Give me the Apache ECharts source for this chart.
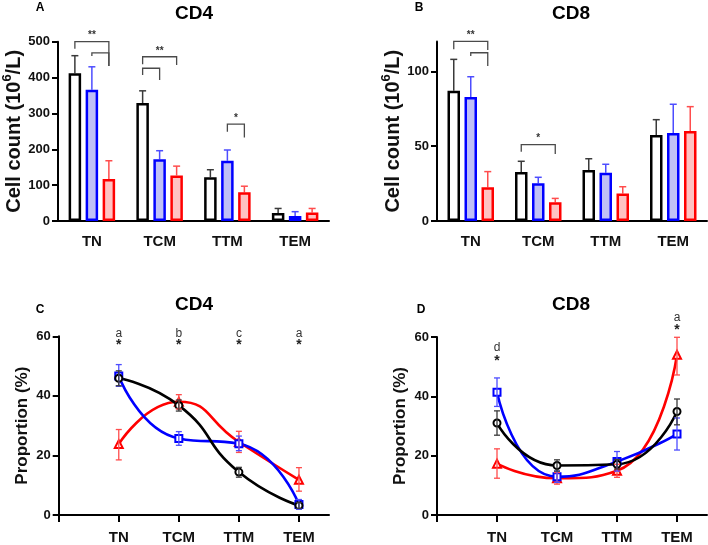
<!DOCTYPE html>
<html><head><meta charset="utf-8">
<script src="https://cdn.jsdelivr.net/npm/echarts@6/dist/echarts.min.js"></script>
<style>html,body{margin:0;padding:0;background:#fff}#c{width:708px;height:545px}</style>
</head><body><div id="c"></div>
<script>
// ---------- DATA ----------
const categories = ['TN', 'TCM', 'TTM', 'TEM'];
const catPositions = [1, 2, 3, 4];

// Panel A: CD4 cell counts (10^6/L) – mean and top of error bar
const cd4CountBlack    = [412, 329, 122, 22];
const cd4CountBlackErr = [461, 363, 143, 35];
const cd4CountBlue     = [366, 172, 168, 14];
const cd4CountBlueErr  = [430, 196, 198, 26];
const cd4CountRed      = [117, 127, 80, 24];
const cd4CountRedErr   = [168, 153, 97, 35];

// Panel B: CD8 cell counts
const cd8CountBlack    = [87, 32.7, 34.1, 57.5];
const cd8CountBlackErr = [108, 39.9, 41.6, 67.7];
const cd8CountBlue     = [82.9, 25.2, 32.3, 58.8];
const cd8CountBlueErr  = [96.4, 29.2, 37.9, 78];
const cd8CountRed      = [22.5, 12.5, 18.3, 60.1];
const cd8CountRedErr   = [33, 15.1, 22.9, 76.4];

// Significance brackets: [category, fromBar, toBar, top, leftEnd, rightEnd, label]
const cd4Brackets = [
  [0, 0, 2, 500, 480, 432, '**'],
  [0, 1, 2, 469, 460, 432, ''],
  [1, 0, 2, 458, 437, 435, '**'],
  [1, 0, 1, 426, 407, 393, ''],
  [2, 1, 2, 270, 249, 233, '*']
];
const cd8Brackets = [
  [0, 0, 2, 120, 114.7, 114.2, '**'],
  [0, 1, 2, 112.4, 110.2, 103.5, ''],
  [1, 0, 2, 51, 46.3, 44.8, '*']
];

// Panel C: CD4 proportions (%)
const cd4PropBlack     = [45.9, 36.8, 14.4, 3.2];
const cd4PropBlackLow  = [43.4, 34.9, 12.7, 2.2];
const cd4PropBlackHigh = [48.4, 38.6, 16.0, 4.2];
const cd4PropBlue      = [46.7, 25.7, 23.9, 3.5];
const cd4PropBlueLow   = [43.2, 23.4, 21.6, 1.9];
const cd4PropBlueHigh  = [50.5, 28.0, 26.5, 5.2];
const cd4PropRed       = [23.8, 38.0, 24.5, 11.8];
const cd4PropRedLow    = [18.5, 35.6, 21.0, 8.0];
const cd4PropRedHigh   = [28.7, 40.4, 28.1, 15.9];
const cd4Letters = [[1, 'a'], [2, 'b'], [3, 'c'], [4, 'a']];
const cd4LetterY = 60.9, cd4StarY = 57.6;

// Panel D: CD8 proportions (%)
const cd8PropBlack     = [31.0, 16.7, 17.1, 34.9];
const cd8PropBlackLow  = [26.9, 14.8, 15.5, 30.4];
const cd8PropBlackHigh = [35.1, 18.6, 18.7, 39.1];
const cd8PropBlue      = [41.4, 12.9, 18.0, 27.3];
const cd8PropBlueLow   = [36.6, 11.0, 14.8, 21.9];
const cd8PropBlueHigh  = [46.2, 14.8, 21.4, 32.7];
const cd8PropRed       = [17.3, 12.4, 14.9, 54.0];
const cd8PropRedLow    = [12.4, 10.4, 12.7, 47.2];
const cd8PropRedHigh   = [22.3, 14.3, 17.1, 59.9];
const cd8Annot = [[1, 'd', 56.3, 52.7], [4, 'a', 66.6, 62.9]];

// ---------- STYLE ----------
const FONT = 'Liberation Sans, Arial, Helvetica, sans-serif';
const BAR_W = 12.5, BAR_GAP = 0.36;
const BAR_STEP = BAR_W * (1 + BAR_GAP);
const COL = {
  black: {line: '#000000', fill: '#ffffff', err: '#3a3a3a'},
  blue:  {line: '#0000ff', fill: '#c0c0f6', err: '#4d4dff'},
  red:   {line: '#ff0000', fill: '#ffc2c2', err: '#ff4d4d'}
};

const chart = echarts.init(document.getElementById('c'), null, {renderer: 'canvas'});

function tickLabelStyle() {
  return {fontFamily: FONT, fontWeight: 'bold', fontSize: 13, color: '#111'};
}

function makeYAxis(grid, max, interval, name, nameGap, nameSize, ticks) {
  return {
    type: 'value', gridIndex: grid, min: 0, max: max, interval: interval,
    name: name, nameLocation: 'middle', nameGap: nameGap,
    nameTextStyle: {
      rich: {
        n: {fontFamily: FONT, fontWeight: 'bold', fontSize: nameSize, color: '#111', lineHeight: nameSize + 6},
        s: {fontFamily: FONT, fontWeight: 'bold', fontSize: Math.round(nameSize * 0.65), color: '#111', verticalAlign: 'top'}
      }
    },
    axisLine: {show: true, lineStyle: {color: '#000', width: 2}},
    axisTick: {show: true, length: 6, lineStyle: {color: '#000', width: 2}, customValues: ticks},
    axisLabel: Object.assign({margin: 8, customValues: ticks}, tickLabelStyle()),
    splitLine: {show: false}
  };
}

function catXAxis(grid) {
  return {
    type: 'category', gridIndex: grid, data: categories,
    axisLine: {lineStyle: {color: '#000', width: 2}},
    axisTick: {alignWithLabel: true, length: 7, lineStyle: {color: '#000', width: 2}},
    axisLabel: {margin: 13, fontFamily: FONT, fontWeight: 'bold', fontSize: 15, color: '#111'}
  };
}

function valXAxis(grid) {
  return {
    type: 'value', gridIndex: grid, min: 0, max: 4.5, interval: 1,
    axisLine: {lineStyle: {color: '#000', width: 2}},
    axisTick: {length: 7, lineStyle: {color: '#000', width: 2}, customValues: [0, 1, 2, 3, 4]},
    axisLabel: {margin: 15, fontFamily: FONT, fontWeight: 'bold', fontSize: 15, color: '#111',
      customValues: catPositions,
      formatter: v => categories[Math.round(v) - 1] || ''},
    splitLine: {show: false}
  };
}

function barSeries(grid, values, c) {
  return {
    type: 'bar', xAxisIndex: grid, yAxisIndex: grid, data: values,
    barWidth: BAR_W, barGap: (BAR_GAP * 100) + '%',
    itemStyle: {color: c.fill, borderColor: c.line, borderWidth: 2.5},
    z: 3, silent: true
  };
}

function barErrSeries(grid, values, errs, barIdx, c) {
  return {
    type: 'custom', xAxisIndex: grid, yAxisIndex: grid, z: 2, silent: true,
    data: values.map((v, i) => [i, v, errs[i]]),
    renderItem: function (params, api) {
      const p0 = api.coord([api.value(0), api.value(1)]);
      const p1 = api.coord([api.value(0), api.value(2)]);
      const x = p0[0] + (barIdx - 1) * BAR_STEP;
      const st = {stroke: c.err, lineWidth: 1.5};
      return {type: 'group', children: [
        {type: 'line', shape: {x1: x, y1: p0[1], x2: x, y2: p1[1]}, style: st},
        {type: 'line', shape: {x1: x - 3.5, y1: p1[1], x2: x + 3.5, y2: p1[1]}, style: st}
      ]};
    }
  };
}

function bracketSeries(grid, brackets) {
  return {
    type: 'custom', xAxisIndex: grid, yAxisIndex: grid, z: 5, silent: true,
    clip: false,
    data: brackets.map(b => [b[0], b[3], b[4], b[5]]),
    renderItem: function (params, api) {
      const b = brackets[params.dataIndex];
      const c = api.coord([b[0], b[3]]);
      const xl = c[0] + (b[1] - 1) * BAR_STEP;
      const xr = c[0] + (b[2] - 1) * BAR_STEP;
      const yt = c[1];
      const yl = api.coord([b[0], b[4]])[1];
      const yr = api.coord([b[0], b[5]])[1];
      const st = {stroke: '#4a4a4a', lineWidth: 1.3, fill: null};
      const children = [
        {type: 'polyline', shape: {points: [[xl, yl], [xl, yt], [xr, yt], [xr, yr]]}, style: st}
      ];
      if (b[6]) {
        children.push({type: 'text', x: (xl + xr) / 2, y: yt - 1,
          style: {text: b[6], fill: '#333', font: 'bold 10px ' + FONT, textAlign: 'center', textVerticalAlign: 'bottom'}});
      }
      return {type: 'group', children: children};
    }
  };
}

function lineSeries(grid, values, symbol, c, smooth) {
  return {
    type: 'line', xAxisIndex: grid, yAxisIndex: grid, smooth: smooth,
    data: values.map((v, i) => [catPositions[i], v]),
    symbol: symbol, symbolSize: symbol === 'emptyTriangle' ? 8 : 7,
    lineStyle: {color: c.line, width: 2.6},
    itemStyle: {color: c.line, borderColor: c.line, borderWidth: 1.2},
    z: 3, silent: true
  };
}

function lineErrSeries(grid, lows, highs, c) {
  return {
    type: 'custom', xAxisIndex: grid, yAxisIndex: grid, z: 4, silent: true,
    data: lows.map((v, i) => [catPositions[i], v, highs[i]]),
    renderItem: function (params, api) {
      const p0 = api.coord([api.value(0), api.value(1)]);
      const p1 = api.coord([api.value(0), api.value(2)]);
      const st = {stroke: c.err, lineWidth: 1.3};
      const x = p0[0];
      return {type: 'group', children: [
        {type: 'line', shape: {x1: x, y1: p0[1], x2: x, y2: p1[1]}, style: st},
        {type: 'line', shape: {x1: x - 3, y1: p1[1], x2: x + 3, y2: p1[1]}, style: st},
        {type: 'line', shape: {x1: x - 3, y1: p0[1], x2: x + 3, y2: p0[1]}, style: st}
      ]};
    }
  };
}

function annotSeries(grid, items) {
  // items: [x, letter, letterY, starY]
  return {
    type: 'custom', xAxisIndex: grid, yAxisIndex: grid, z: 6, silent: true, clip: false,
    data: items.map(a => [a[0], a[2], a[3]]),
    renderItem: function (params, api) {
      const a = items[params.dataIndex];
      const pl = api.coord([a[0], a[2]]);
      const ps = api.coord([a[0], a[3]]);
      return {type: 'group', children: [
        {type: 'text', x: pl[0], y: pl[1], style: {text: a[1], fill: '#333', font: '12px ' + FONT, textAlign: 'center', textVerticalAlign: 'middle'}},
        {type: 'text', x: ps[0], y: ps[1] + 2, style: {text: '*', fill: '#222', font: 'bold 14px ' + FONT, textAlign: 'center', textVerticalAlign: 'middle'}}
      ]};
    }
  };
}

const countName = '{n|Cell count (10}{s|6}{n|/L)}';
const propName = '{n|Proportion (%)}';

function headText(x, y, text, size) {
  return {type: 'text', x: x, y: y, silent: true,
    style: {text: text, font: 'bold ' + size + 'px ' + FONT, fill: '#000', textAlign: 'center', textVerticalAlign: 'middle'}};
}

const option = {
  animation: false,
  backgroundColor: '#fff',
  graphic: [
    headText(40, 8, 'A', 12), headText(194, 14, 'CD4', 19),
    headText(419, 8, 'B', 12), headText(571, 14, 'CD8', 19),
    headText(40, 310, 'C', 12), headText(194, 305, 'CD4', 19),
    headText(421, 310, 'D', 12), headText(571, 305, 'CD8', 19)
  ],
  grid: [
    {left: 58, top: 41.7, width: 271, height: 179.3},
    {left: 437, top: 41.4, width: 270, height: 179.6},
    {left: 58.7, top: 336.3, width: 270.3, height: 180.7},
    {left: 437, top: 337, width: 270, height: 179.3}
  ],
  xAxis: [catXAxis(0), catXAxis(1), valXAxis(2), valXAxis(3)],
  yAxis: [
    makeYAxis(0, 500, 100, countName, 29, 20, [0, 100, 200, 300, 400, 500]),
    makeYAxis(1, 120, 50, countName, 29, 20, [0, 50, 100]),
    makeYAxis(2, 60, 20, propName, 25, 17, [0, 20, 40, 60]),
    makeYAxis(3, 60, 20, propName, 25, 17, [0, 20, 40, 60])
  ],
  series: [
    barErrSeries(0, cd4CountBlack, cd4CountBlackErr, 0, COL.black),
    barErrSeries(0, cd4CountBlue, cd4CountBlueErr, 1, COL.blue),
    barErrSeries(0, cd4CountRed, cd4CountRedErr, 2, COL.red),
    barSeries(0, cd4CountBlack, COL.black),
    barSeries(0, cd4CountBlue, COL.blue),
    barSeries(0, cd4CountRed, COL.red),
    bracketSeries(0, cd4Brackets),

    barErrSeries(1, cd8CountBlack, cd8CountBlackErr, 0, COL.black),
    barErrSeries(1, cd8CountBlue, cd8CountBlueErr, 1, COL.blue),
    barErrSeries(1, cd8CountRed, cd8CountRedErr, 2, COL.red),
    barSeries(1, cd8CountBlack, COL.black),
    barSeries(1, cd8CountBlue, COL.blue),
    barSeries(1, cd8CountRed, COL.red),
    bracketSeries(1, cd8Brackets),

    lineSeries(2, cd4PropRed, 'emptyTriangle', COL.red, 0.55),
    lineSeries(2, cd4PropBlue, 'emptyRect', COL.blue, 0.55),
    lineSeries(2, cd4PropBlack, 'emptyCircle', COL.black, 0.55),
    lineErrSeries(2, cd4PropRedLow, cd4PropRedHigh, COL.red),
    lineErrSeries(2, cd4PropBlueLow, cd4PropBlueHigh, COL.blue),
    lineErrSeries(2, cd4PropBlackLow, cd4PropBlackHigh, COL.black),
    annotSeries(2, cd4Letters.map(l => [l[0], l[1], cd4LetterY, cd4StarY])),

    lineSeries(3, cd8PropRed, 'emptyTriangle', COL.red, 0.55),
    lineSeries(3, cd8PropBlue, 'emptyRect', COL.blue, 0.55),
    lineSeries(3, cd8PropBlack, 'emptyCircle', COL.black, 0.55),
    lineErrSeries(3, cd8PropRedLow, cd8PropRedHigh, COL.red),
    lineErrSeries(3, cd8PropBlueLow, cd8PropBlueHigh, COL.blue),
    lineErrSeries(3, cd8PropBlackLow, cd8PropBlackHigh, COL.black),
    annotSeries(3, cd8Annot)
  ]
};
chart.setOption(option);
</script>
</body></html>
